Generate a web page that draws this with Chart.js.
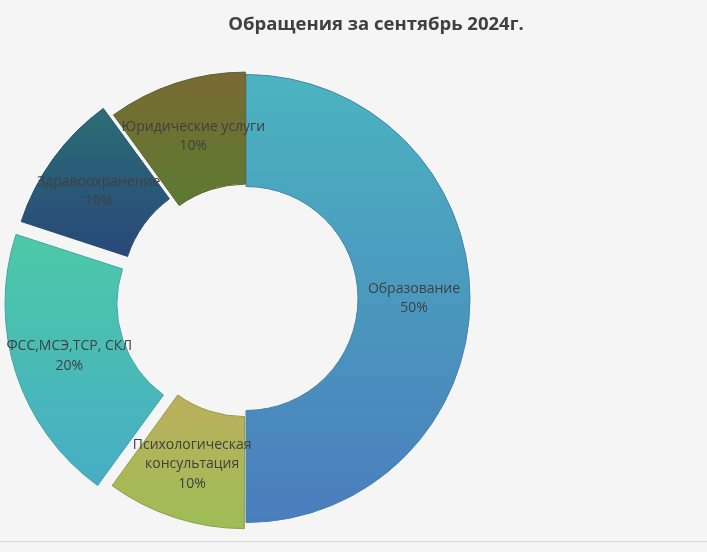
<!DOCTYPE html>
<html lang="ru">
<head>
<meta charset="utf-8">
<title>Обращения за сентябрь 2024г.</title>
<script src="https://cdn.jsdelivr.net/npm/chart.js@4.4.1/dist/chart.umd.min.js"></script>
<style>
    html, body { margin: 0; padding: 0; background: #f5f5f5; }
    #wrap { position: relative; width: 707px; height: 552px; }
    #frame { position: absolute; left: 0; top: 0; width: 707px; height: 541px; border-bottom: 1px solid #d9d9d9; }
    canvas { position: absolute; left: 0; top: 0; }
</style>
</head>
<body>
<div id="wrap">
    <div id="frame"></div>
    <canvas id="chart"></canvas>
</div>
<script>
// Обращения за сентябрь 2024г. - doughnut with exploded slices

const chartTitle = 'Обращения за сентябрь 2024г.';

const categories = [
    'Образование',
    ['Психологическая', 'консультация'],
    'ФСС,МСЭ,ТСР, СКЛ',
    'Здравоохранение',
    'Юридические услуги'
];

const shares = [50, 10, 20, 10, 10];

// how far each slice is pulled out of the ring
const explode = [0, 18, 68, 40, 7];

// vertical gradient per slice: [top, bottom]
const gradientColors = [
    ['#4bb4c0', '#4a7dbd'],
    ['#bcaf5c', '#9cbe56'],
    ['#4cc9a7', '#47acc6'],
    ['#2b6f75', '#29497a'],
    ['#7a6a33', '#5d7a31']
];

const borderColors = ['#4685a6', '#8f9a4a', '#3fa3a6', '#24506a', '#5b6430'];

// same displacement as Chart.js arc.draw() applies for a given offset
const shiftOf = (offset, circumference) => {
    const o = offset / 4;
    const fix = 1 - Math.sin(Math.min(Math.PI, circumference));
    return o + o * fix;
};

const sliceGradient = (context) => {
    const chart = context.chart;
    const area = chart.chartArea;
    if (!area) return gradientColors[context.dataIndex][0];
    const i = context.dataIndex;
    const total = shares.reduce((a, b) => a + b, 0);
    const before = shares.slice(0, i).reduce((a, b) => a + b, 0);
    const start = -Math.PI / 2 + before / total * Math.PI * 2;
    const end = start + shares[i] / total * Math.PI * 2;
    const cx = (area.left + area.right) / 2;
    const cy = (area.top + area.bottom) / 2;
    const outer = chart.options.radius;
    const inner = outer * 0.5;
    const mid = (start + end) / 2;
    const d = shiftOf(explode[i], end - start);
    let top = Infinity, bottom = -Infinity;
    for (let k = 0; k <= 40; k++) {
        const a = start + (end - start) * k / 40;
        [inner, outer].forEach(r => {
            const y = cy + Math.sin(a) * r + Math.sin(mid) * d;
            top = Math.min(top, y);
            bottom = Math.max(bottom, y);
        });
    }
    const g = chart.ctx.createLinearGradient(0, top, 0, bottom);
    g.addColorStop(0, gradientColors[i][0]);
    g.addColorStop(1, gradientColors[i][1]);
    return g;
};

const titlePlugin = {
    id: 'plainTitle',
    afterDraw(chart) {
        const ctx = chart.ctx;
        ctx.save();
        ctx.font = 'bold 18.5px "Open Sans"';
        ctx.fillStyle = '#404040';
        ctx.textAlign = 'center';
        ctx.textBaseline = 'middle';
        ctx.fillText(chartTitle, 376, 25);
        ctx.restore();
    }
};

const sliceLabels = {
    id: 'sliceLabels',
    afterDatasetsDraw(chart) {
        const ctx = chart.ctx;
        const meta = chart.getDatasetMeta(0);
        const total = shares.reduce((a, b) => a + b, 0);
        ctx.save();
        ctx.font = '14px "Open Sans"';
        ctx.fillStyle = '#404040';
        ctx.textAlign = 'center';
        ctx.textBaseline = 'middle';
        meta.data.forEach((arc, i) => {
            const p = arc.getProps(['x', 'y', 'startAngle', 'endAngle', 'innerRadius', 'outerRadius']);
            const mid = (p.startAngle + p.endAngle) / 2;
            const r = (p.innerRadius + p.outerRadius) / 2 + shiftOf(explode[i], p.endAngle - p.startAngle);
            const x = p.x + Math.cos(mid) * r;
            const y = p.y + Math.sin(mid) * r;
            const lines = [].concat(categories[i], Math.round(shares[i] / total * 100) + '%');
            const lh = 19.5;
            lines.forEach((t, k) => {
                ctx.fillText(t, x, y + (k - (lines.length - 1) / 2) * lh);
            });
        });
        ctx.restore();
    }
};

const ctx = document.getElementById('chart');

new Chart(ctx, {
    type: 'doughnut',
    data: {
        labels: categories,
        datasets: [{
            data: shares,
            backgroundColor: sliceGradient,
            borderColor: borderColors,
            borderWidth: 1,
            offset: explode,
            hoverOffset: 0
        }]
    },
    options: {
        responsive: true,
        maintainAspectRatio: false,
        animation: false,
        radius: 224,
        cutout: '50%',
        layout: {
            padding: { left: 0, right: 215, top: 45, bottom: 0 }
        },
        plugins: {
            legend: { display: false },
            title: { display: false },
            tooltip: { enabled: false }
        }
    },
    plugins: [titlePlugin, sliceLabels]
});
</script>
</body>
</html>
